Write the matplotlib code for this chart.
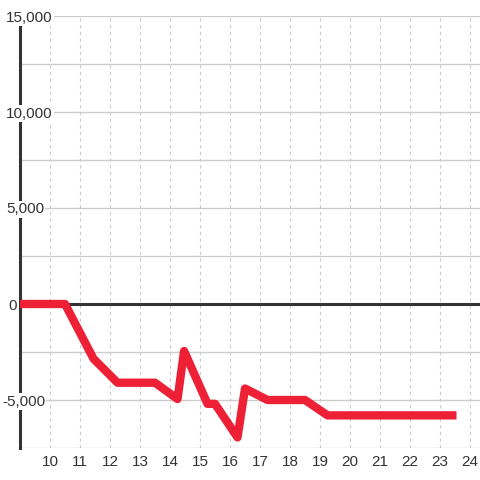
import matplotlib
matplotlib.use("Agg")
import matplotlib.pyplot as plt

plt.rcParams['font.family'] = ['Liberation Sans', 'DejaVu Sans']

# values
x = [9.0, 10.5, 11.45, 12.25, 13.5, 14.25, 14.47, 15.25, 15.5, 16.25, 16.5, 17.25, 18.5, 19.25, 23.55]
y = [0, 0, -2850, -4100, -4100, -4950, -2450, -5200, -5200, -6950, -4400, -5000, -5000, -5800, -5800]
x_ticks = list(range(10, 25))
y_labels = [15000, 10000, 5000, 0, -5000]

fig = plt.figure(figsize=(4.8, 4.8), dpi=100)
ax = fig.add_axes([20 / 480, 32 / 480, 460 / 480, 432 / 480])
ax.set_xlim(9.0, 24.333)
ax.set_ylim(-7500, 15000)

# grid
for v in range(-7500, 15001, 2500):
    if v != 0:
        ax.axhline(v, color='#cccccc', lw=1, zorder=1)
for t in x_ticks:
    ax.axvline(t, color='#cccccc', lw=0.8, ls=(0, (3, 3)), zorder=1)

ax.axhline(0, color='#333333', lw=2.2, zorder=2)

ax.plot(x, y, color='#ee2036', lw=6, solid_capstyle='butt', zorder=3)

for s in ['top', 'right', 'bottom']:
    ax.spines[s].set_visible(False)
ax.spines['left'].set_color('#333333')
ax.spines['left'].set_linewidth(2.2)
ax.spines['left'].set_zorder(2)

ax.set_yticks([])
ax.set_xticks(x_ticks)
ax.set_xticklabels([str(t) for t in x_ticks], fontsize=11, color='#333333')
ax.tick_params(axis='x', length=0, pad=5)

# y labels with white boxes, overlapping the spine
half_digit = 5.5 / 432 * 22500
for v in y_labels:
    lab = f"{v:,}"
    xpos = 9.0 - 14 / 30
    if v == 0:
        xpos = 9.0 - 12 / 30
    if v < 0:
        xpos = 9.0 - 18 / 30
    ax.text(xpos, v - half_digit, lab, ha='left', va='baseline', fontsize=11, color='#333333',
            bbox=dict(facecolor='white', edgecolor='none', pad=1.0), zorder=5, clip_on=False)

fig.savefig('out.png', dpi=100, facecolor='white')
